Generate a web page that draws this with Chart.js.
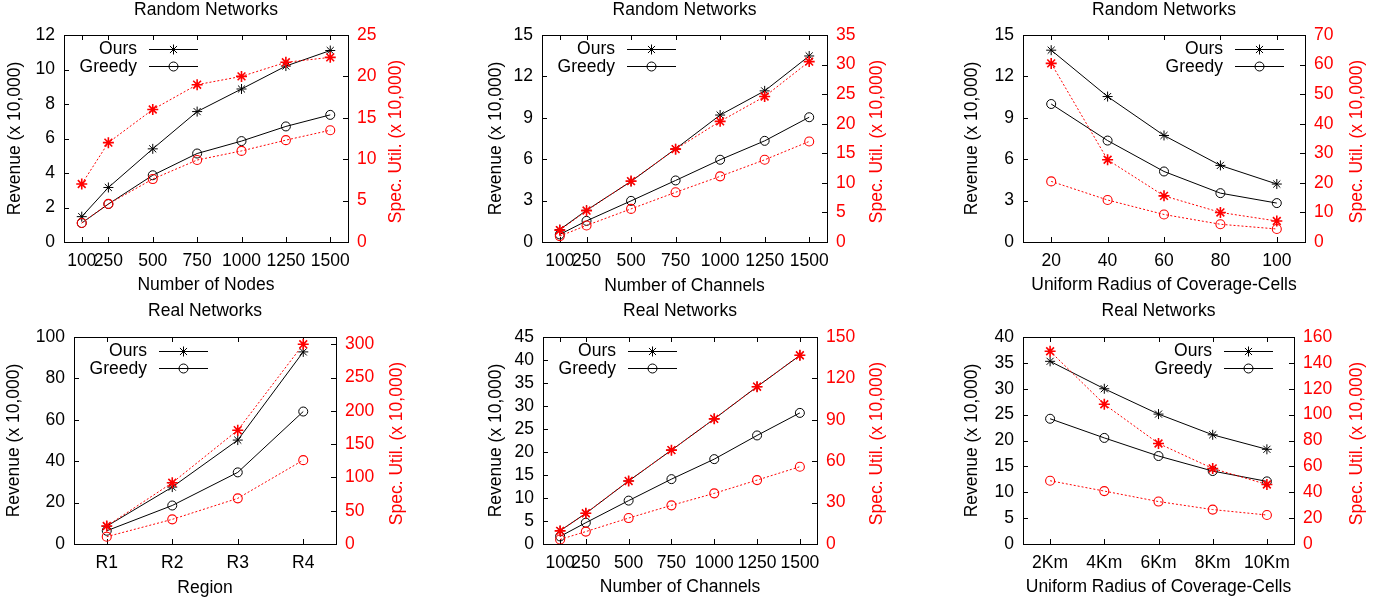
<!DOCTYPE html>
<html>
<head>
<meta charset="utf-8">
<title>Revenue / Spectrum utilisation</title>
<script src="https://cdn.jsdelivr.net/npm/chart.js@4.4.1/dist/chart.umd.min.js"></script>
<style>
    body { margin: 0; background: #fff; width: 1393px; height: 603px; position: relative; overflow: hidden; }
    canvas { position: absolute; }
</style>
</head>
<body>
<canvas id="p1"></canvas>
<canvas id="p2"></canvas>
<canvas id="p3"></canvas>
<canvas id="p4"></canvas>
<canvas id="p5"></canvas>
<canvas id="p6"></canvas>
<script>
// Ejes x (categorias / valores)
const nodeCounts = [100, 250, 500, 750, 1000, 1250, 1500];
const channelCounts = [100, 250, 500, 750, 1000, 1250, 1500];
const radii = [20, 40, 60, 80, 100];
const regions = ["R1", "R2", "R3", "R4"];
const radiiKm = ["2Km", "4Km", "6Km", "8Km", "10Km"];

// Random Networks - Number of Nodes
const rndNodeOurs = [1.47, 3.16, 5.4, 7.56, 8.87, 10.2, 11.1];
const rndNodeGreedy = [1.1, 2.2, 3.87, 5.13, 5.85, 6.7, 7.37];
const rndNodeOursSU = [7.0, 12.0, 16.0, 19.0, 20.0, 21.7, 22.3];
const rndNodeGreedySU = [2.3, 4.6, 7.6, 9.9, 11.0, 12.3, 13.5];

// Random Networks - Number of Channels
const rndChanOurs = [0.9, 2.3, 4.39, 6.75, 9.2, 10.95, 13.48];
const rndChanGreedy = [0.55, 1.53, 2.98, 4.46, 5.96, 7.33, 9.04];
const rndChanOursSU = [2.0, 5.3, 10.3, 15.7, 20.4, 24.6, 30.5];
const rndChanGreedySU = [1.0, 2.8, 5.6, 8.4, 11.1, 13.9, 17.0];

// Random Networks - Uniform Radius
const rndRadOurs = [13.9, 10.54, 7.72, 5.55, 4.2];
const rndRadGreedy = [10.0, 7.35, 5.11, 3.54, 2.82];
const rndRadOursSU = [60.4, 27.8, 15.6, 10.0, 7.1];
const rndRadGreedySU = [20.5, 14.2, 9.3, 6.0, 4.4];

// Real Networks - Region
const realRegOurs = [8.6, 27.5, 50.2, 92.8];
const realRegGreedy = [6.4, 18.6, 34.6, 64];
const realRegOursSU = [27, 92, 171, 300];
const realRegGreedySU = [11, 37, 68.6, 126];

// Real Networks - Number of Channels
const realChanOurs = [2.9, 6.66, 13.7, 20.4, 27.2, 34.2, 41.0];
const realChanGreedy = [1.65, 4.63, 9.43, 14.1, 18.45, 23.6, 28.5];
const realChanOursSU = [9.5, 22.3, 45.7, 68, 90.7, 114, 136.8];
const realChanGreedySU = [3.3, 9.0, 18.8, 28, 36.7, 46.3, 56];

// Real Networks - Uniform Radius (Km)
const realKmOurs = [35.3, 30.0, 25.1, 21.1, 18.3];
const realKmGreedy = [24.2, 20.5, 17.0, 14.1, 12.1];
const realKmOursSU = [149, 108, 77.7, 58.4, 46];
const realKmGreedySU = [48.9, 40.9, 32.8, 26.6, 22.4];

const FONT_SIZE = 17.5;
const LINE_H = FONT_SIZE * 1.2;
Chart.defaults.font.family = "'Liberation Sans', Arial, sans-serif";
Chart.defaults.font.size = FONT_SIZE;
Chart.defaults.color = "#000";

const RED = "#ff0000";
const FONT = FONT_SIZE + "px 'Liberation Sans', Arial, sans-serif";

// Marcadores tipo gnuplot
function drawStar(ctx, x, y, r) {
    const d = r * Math.SQRT1_2;
    ctx.beginPath();
    ctx.moveTo(x - r, y); ctx.lineTo(x + r, y);
    ctx.moveTo(x, y - r); ctx.lineTo(x, y + r);
    ctx.moveTo(x - d, y - d); ctx.lineTo(x + d, y + d);
    ctx.moveTo(x - d, y + d); ctx.lineTo(x + d, y - d);
    ctx.stroke();
}
function drawCircle(ctx, x, y, r) {
    ctx.beginPath();
    ctx.arc(x, y, r, 0, Math.PI * 2);
    ctx.stroke();
}

function makePanel(p) {
    const [x0, y0, w, h] = p.box;       // posicion del canvas
    const [L, T, R, B] = p.plot;        // area de trazado (absoluta)
    const canvas = document.getElementById(p.id);
    canvas.width = w;
    canvas.height = h;
    canvas.style.left = x0 + "px";
    canvas.style.top = y0 + "px";

    const isCat = Array.isArray(p.labels);
    const toData = (ys) => isCat ? ys : ys.map((v, i) => ({ x: p.xs[i], y: v }));

    const common = { borderWidth: 1, pointBackgroundColor: "rgba(0,0,0,0)", fill: false, tension: 0 };
    const datasets = [
        { ...common, label: "Ours (SU)", data: toData(p.oursSU), yAxisID: "y2", borderColor: RED, order: 0,
          borderDash: [2, 2], pointStyle: "star", pointRadius: 5.5, pointBorderWidth: 1.6, pointBorderColor: RED },
        { ...common, label: "Greedy (SU)", data: toData(p.greedySU), yAxisID: "y2", borderColor: RED, order: 0,
          borderDash: [2, 2], pointStyle: "circle", pointRadius: 4.5, pointBorderWidth: 1.1, pointBorderColor: RED },
        { ...common, label: "Ours", data: toData(p.ours), yAxisID: "y", borderColor: "#000", order: 1,
          pointStyle: "star", pointRadius: 5, pointBorderWidth: 1, pointBorderColor: "#000" },
        { ...common, label: "Greedy", data: toData(p.greedy), yAxisID: "y", borderColor: "#000", order: 1,
          pointStyle: "circle", pointRadius: 4.5, pointBorderWidth: 1, pointBorderColor: "#000" },
    ];

    const noGrid = { display: false, drawTicks: false, drawOnChartArea: false };

    const xScale = isCat
        ? { type: "category", offset: true }
        : {
            type: "linear", min: p.xMin, max: p.xMax,
            afterBuildTicks: (s) => { s.ticks = p.xs.map(v => ({ value: v })); },
          };
    Object.assign(xScale, {
        grid: noGrid, border: { display: false },
        ticks: { autoSkip: false, maxRotation: 0, padding: 9, ...(isCat ? {} : { callback: v => String(v) }) },
        title: { display: true, text: p.xTitle, padding: { top: 0, bottom: p.xTitlePad } },
        afterFit: (s) => { s.height = y0 + h - B; },
    });

    // Caja, marcas interiores, titulo del eje derecho y leyenda
    const deco = {
        id: "deco_" + p.id,
        beforeDatasetsDraw(chart) {
            const ctx = chart.ctx;
            const a = chart.chartArea;
            ctx.save();
            ctx.strokeStyle = "#000";
            ctx.lineWidth = 1;
            ctx.beginPath();
            const xs = chart.scales.x;
            xs.ticks.forEach((t, i) => {
                const px = Math.round(xs.getPixelForTick(i)) + 0.5;
                ctx.moveTo(px, a.bottom); ctx.lineTo(px, a.bottom - 5);
                ctx.moveTo(px, a.top); ctx.lineTo(px, a.top + 5);
            });
            const ys = chart.scales.y;
            ys.ticks.forEach((t, i) => {
                const py = Math.round(ys.getPixelForTick(i)) + 0.5;
                ctx.moveTo(a.left, py); ctx.lineTo(a.left + 5, py);
            });
            const y2 = chart.scales.y2;
            y2.ticks.forEach((t, i) => {
                const py = Math.round(y2.getPixelForTick(i)) + 0.5;
                ctx.moveTo(a.right, py); ctx.lineTo(a.right - 5, py);
            });
            ctx.stroke();
            ctx.strokeRect(Math.round(a.left) + 0.5, Math.round(a.top) + 0.5,
                Math.round(a.right - a.left), Math.round(a.bottom - a.top));
            ctx.restore();
        },
        afterDraw(chart) {
            const ctx = chart.ctx;
            const a = chart.chartArea;
            ctx.save();
            // titulo del eje y2 (rotado como el de la izquierda)
            ctx.font = FONT;
            ctx.fillStyle = RED;
            ctx.textAlign = "center";
            ctx.textBaseline = "middle";
            ctx.translate(p.y2TitleX - x0, (a.top + a.bottom) / 2 + 3);
            ctx.rotate(-Math.PI / 2);
            ctx.fillText("Spec. Util. (x 10,000)", 0, 0);
            ctx.restore();

            // leyenda
            ctx.save();
            ctx.font = FONT;
            ctx.fillStyle = "#000";
            ctx.strokeStyle = "#000";
            ctx.lineWidth = 1;
            ctx.textAlign = "right";
            ctx.textBaseline = "middle";
            let textRight, lx1, lx2;
            if (p.legendRight) {
                textRight = a.right - 82; lx1 = a.right - 70; lx2 = a.right - 21;
            } else {
                textRight = a.left + 73; lx1 = a.left + 85; lx2 = a.left + 134;
            }
            const rows = [["Ours", drawStar, 5], ["Greedy", drawCircle, 4.5]];
            rows.forEach(([txt, mark, r], i) => {
                const yy = a.top + 13.5 + i * 17.5;
                ctx.fillText(txt, textRight, yy + 1);
                ctx.beginPath();
                ctx.moveTo(lx1, Math.round(yy) + 0.5);
                ctx.lineTo(lx2, Math.round(yy) + 0.5);
                ctx.stroke();
                mark(ctx, (lx1 + lx2) / 2, Math.round(yy) + 0.5, r);
            });
            ctx.restore();
        },
    };

    return new Chart(canvas, {
        type: "line",
        data: { labels: isCat ? p.labels : undefined, datasets: datasets },
        options: {
            responsive: false,
            animation: false,
            devicePixelRatio: 1,
            events: [],
            layout: { padding: 0 },
            plugins: {
                legend: { display: false },
                tooltip: { enabled: false },
                title: {
                    display: true, text: p.title, fullSize: false,
                    font: { size: FONT_SIZE, weight: "normal" },
                    padding: { top: p.titleTop, bottom: T - y0 - p.titleTop - LINE_H },
                },
            },
            scales: {
                x: xScale,
                y: {
                    type: "linear", position: "left", min: 0, max: p.yMax,
                    grid: noGrid, border: { display: false },
                    ticks: { stepSize: p.yStep, padding: 9, includeBounds: false, autoSkip: false },
                    title: { display: true, text: "Revenue (x 10,000)", padding: { top: p.yTitleX - x0 - LINE_H / 2, bottom: 0 } },
                    afterFit: (s) => { s.width = L - x0; },
                },
                y2: {
                    type: "linear", position: "right", min: 0, max: p.y2Max,
                    grid: noGrid, border: { display: false },
                    ticks: { stepSize: p.y2Step, padding: 9, color: RED, includeBounds: false, autoSkip: false },
                    afterFit: (s) => { s.width = x0 + w - R; },
                },
            },
        },
        plugins: [deco],
    });
}

// Fila superior: Random Networks
makePanel({
    id: "p1", box: [0, 0, 470, 300], plot: [64, 35, 348, 242],
    title: "Random Networks", titleTop: 0, xTitle: "Number of Nodes", xTitlePad: 4,
    xs: nodeCounts, xMin: 0, xMax: 1600, yMax: 12, yStep: 2, y2Max: 25, y2Step: 5,
    ours: rndNodeOurs, greedy: rndNodeGreedy, oursSU: rndNodeOursSU, greedySU: rndNodeGreedySU,
    yTitleX: 15, y2TitleX: 396, legendRight: false,
});
makePanel({
    id: "p2", box: [470, 0, 470, 300], plot: [542, 35, 827, 242],
    title: "Random Networks", titleTop: 0, xTitle: "Number of Channels", xTitlePad: 3.5,
    xs: channelCounts, xMin: 0, xMax: 1600, yMax: 15, yStep: 3, y2Max: 35, y2Step: 5,
    ours: rndChanOurs, greedy: rndChanGreedy, oursSU: rndChanOursSU, greedySU: rndChanGreedySU,
    yTitleX: 495.7, y2TitleX: 877, legendRight: false,
});
makePanel({
    id: "p3", box: [940, 0, 453, 300], plot: [1023, 35, 1305, 242],
    title: "Random Networks", titleTop: 0, xTitle: "Uniform Radius of Coverage-Cells", xTitlePad: 4,
    xs: radii, xMin: 10, xMax: 110, yMax: 15, yStep: 3, y2Max: 70, y2Step: 10,
    ours: rndRadOurs, greedy: rndRadGreedy, oursSU: rndRadOursSU, greedySU: rndRadGreedySU,
    yTitleX: 972.3, y2TitleX: 1357, legendRight: true,
});

// Fila inferior: Real Networks
makePanel({
    id: "p4", box: [0, 300, 470, 303], plot: [74, 337, 336, 544],
    title: "Real Networks", titleTop: 0.5, xTitle: "Region", xTitlePad: 4.5,
    labels: regions, yMax: 100, yStep: 20, y2Max: 311, y2Step: 50,
    ours: realRegOurs, greedy: realRegGreedy, oursSU: realRegOursSU, greedySU: realRegGreedySU,
    yTitleX: 14, y2TitleX: 397, legendRight: false,
});
makePanel({
    id: "p5", box: [470, 300, 470, 303], plot: [543, 337, 817, 544],
    title: "Real Networks", titleTop: 0.5, xTitle: "Number of Channels", xTitlePad: 5,
    xs: channelCounts, xMin: 0, xMax: 1600, yMax: 45, yStep: 5, y2Max: 150, y2Step: 30,
    ours: realChanOurs, greedy: realChanGreedy, oursSU: realChanOursSU, greedySU: realChanGreedySU,
    yTitleX: 495.7, y2TitleX: 877, legendRight: false,
});
makePanel({
    id: "p6", box: [940, 300, 453, 303], plot: [1023, 337, 1294, 544],
    title: "Real Networks", titleTop: 0.5, xTitle: "Uniform Radius of Coverage-Cells", xTitlePad: 5,
    labels: radiiKm, yMax: 40, yStep: 5, y2Max: 160, y2Step: 20,
    ours: realKmOurs, greedy: realKmGreedy, oursSU: realKmOursSU, greedySU: realKmGreedySU,
    yTitleX: 972.3, y2TitleX: 1357, legendRight: true,
});
</script>
</body>
</html>
